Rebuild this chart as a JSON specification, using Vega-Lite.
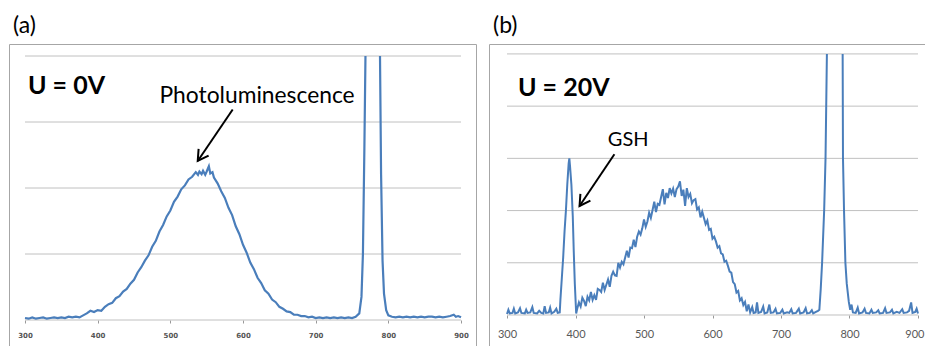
{
  "$schema": "https://vega.github.io/schema/vega-lite/v6.json",
  "padding": {"left": 8, "top": 14, "right": 0, "bottom": 0},
  "background": "white",
  "spacing": 11,
  "config": {
    "view": {"stroke": "#a6a6a6", "strokeWidth": 1},
    "title": {"anchor": "start", "fontSize": 23, "font": "Lato", "fontWeight": "normal", "color": "#000000", "dx": 4, "offset": 6}
  },
  "datasets": {
    "a": [
      {"x": 300, "y": 0.03}, {"x": 305, "y": 0.02}, {"x": 310, "y": 0.04}, {"x": 315, "y": 0.02}, {"x": 320, "y": 0.03},
      {"x": 325, "y": 0.04}, {"x": 330, "y": 0.02}, {"x": 335, "y": 0.03}, {"x": 340, "y": 0.04}, {"x": 345, "y": 0.03},
      {"x": 350, "y": 0.04}, {"x": 355, "y": 0.03}, {"x": 360, "y": 0.05}, {"x": 365, "y": 0.04}, {"x": 370, "y": 0.05},
      {"x": 375, "y": 0.04}, {"x": 380, "y": 0.07}, {"x": 385, "y": 0.10}, {"x": 390, "y": 0.14}, {"x": 395, "y": 0.12},
      {"x": 400, "y": 0.15}, {"x": 405, "y": 0.14}, {"x": 410, "y": 0.20}, {"x": 415, "y": 0.24}, {"x": 420, "y": 0.26},
      {"x": 425, "y": 0.33}, {"x": 430, "y": 0.36}, {"x": 435, "y": 0.43}, {"x": 440, "y": 0.47}, {"x": 445, "y": 0.55},
      {"x": 450, "y": 0.61}, {"x": 455, "y": 0.72}, {"x": 460, "y": 0.80}, {"x": 465, "y": 0.90}, {"x": 470, "y": 0.98},
      {"x": 475, "y": 1.11}, {"x": 480, "y": 1.20}, {"x": 485, "y": 1.34}, {"x": 490, "y": 1.44}, {"x": 495, "y": 1.57},
      {"x": 500, "y": 1.66}, {"x": 505, "y": 1.79}, {"x": 510, "y": 1.87}, {"x": 515, "y": 1.98}, {"x": 520, "y": 2.04},
      {"x": 525, "y": 2.13}, {"x": 530, "y": 2.17}, {"x": 535, "y": 2.24}, {"x": 538, "y": 2.20}, {"x": 540, "y": 2.25},
      {"x": 543, "y": 2.21}, {"x": 545, "y": 2.26}, {"x": 548, "y": 2.20}, {"x": 550, "y": 2.25}, {"x": 553, "y": 2.33},
      {"x": 555, "y": 2.22}, {"x": 558, "y": 2.24}, {"x": 560, "y": 2.16}, {"x": 565, "y": 2.07}, {"x": 570, "y": 1.95},
      {"x": 575, "y": 1.85}, {"x": 580, "y": 1.70}, {"x": 585, "y": 1.59}, {"x": 590, "y": 1.42}, {"x": 595, "y": 1.30},
      {"x": 600, "y": 1.14}, {"x": 605, "y": 1.02}, {"x": 610, "y": 0.87}, {"x": 615, "y": 0.77}, {"x": 620, "y": 0.64},
      {"x": 625, "y": 0.56}, {"x": 630, "y": 0.45}, {"x": 635, "y": 0.40}, {"x": 640, "y": 0.31}, {"x": 645, "y": 0.27},
      {"x": 650, "y": 0.20}, {"x": 655, "y": 0.17}, {"x": 660, "y": 0.13}, {"x": 665, "y": 0.12}, {"x": 670, "y": 0.08},
      {"x": 675, "y": 0.08}, {"x": 680, "y": 0.06}, {"x": 685, "y": 0.06}, {"x": 690, "y": 0.04}, {"x": 695, "y": 0.05},
      {"x": 700, "y": 0.03}, {"x": 705, "y": 0.04}, {"x": 710, "y": 0.03}, {"x": 715, "y": 0.04}, {"x": 720, "y": 0.03},
      {"x": 725, "y": 0.04}, {"x": 730, "y": 0.03}, {"x": 735, "y": 0.04}, {"x": 740, "y": 0.03}, {"x": 745, "y": 0.04},
      {"x": 750, "y": 0.03}, {"x": 755, "y": 0.05}, {"x": 760, "y": 0.10}, {"x": 763, "y": 0.35}, {"x": 765, "y": 1.0},
      {"x": 767, "y": 2.6}, {"x": 768.5, "y": 4.0}, {"x": 778, "y": null}, {"x": 788.5, "y": 4.0}, {"x": 790, "y": 2.2},
      {"x": 792, "y": 0.9}, {"x": 794, "y": 0.4}, {"x": 797, "y": 0.15}, {"x": 800, "y": 0.07}, {"x": 805, "y": 0.05},
      {"x": 810, "y": 0.04}, {"x": 815, "y": 0.05}, {"x": 820, "y": 0.04}, {"x": 825, "y": 0.05}, {"x": 830, "y": 0.04},
      {"x": 835, "y": 0.05}, {"x": 840, "y": 0.04}, {"x": 845, "y": 0.05}, {"x": 850, "y": 0.04}, {"x": 855, "y": 0.05},
      {"x": 860, "y": 0.05}, {"x": 865, "y": 0.04}, {"x": 870, "y": 0.05}, {"x": 875, "y": 0.04}, {"x": 880, "y": 0.05},
      {"x": 885, "y": 0.06}, {"x": 890, "y": 0.08}, {"x": 893, "y": 0.05}, {"x": 896, "y": 0.06}, {"x": 900, "y": 0.04}
    ],
    "b": [
      {"x": 300, "y": 0.02}, {"x": 302, "y": 0.10}, {"x": 304, "y": 0.03}, {"x": 308, "y": 0.04}, {"x": 310, "y": 0.12},
      {"x": 312, "y": 0.03}, {"x": 316, "y": 0.05}, {"x": 319, "y": 0.13}, {"x": 321, "y": 0.04}, {"x": 326, "y": 0.03},
      {"x": 328, "y": 0.10}, {"x": 330, "y": 0.04}, {"x": 334, "y": 0.05}, {"x": 337, "y": 0.15}, {"x": 339, "y": 0.04},
      {"x": 344, "y": 0.03}, {"x": 347, "y": 0.08}, {"x": 350, "y": 0.04}, {"x": 353, "y": 0.03}, {"x": 355, "y": 0.17},
      {"x": 357, "y": 0.04}, {"x": 361, "y": 0.05}, {"x": 363, "y": 0.14}, {"x": 365, "y": 0.03}, {"x": 369, "y": 0.06},
      {"x": 372, "y": 0.12}, {"x": 374, "y": 0.04}, {"x": 377, "y": 0.05}, {"x": 378, "y": 0.30}, {"x": 380, "y": 0.70},
      {"x": 382, "y": 1.10}, {"x": 384, "y": 1.60}, {"x": 386, "y": 2.00}, {"x": 388, "y": 2.50}, {"x": 390, "y": 2.90},
      {"x": 391, "y": 3.00}, {"x": 392, "y": 2.85}, {"x": 394, "y": 2.50}, {"x": 396, "y": 1.90}, {"x": 397.5, "y": 1.20},
      {"x": 399, "y": 0.60}, {"x": 401, "y": 0.03}, {"x": 402.5, "y": 0.12}, {"x": 405, "y": 0.24}, {"x": 407.5, "y": 0.16},
      {"x": 410, "y": 0.33}, {"x": 412.5, "y": 0.27}, {"x": 415, "y": 0.17}, {"x": 417.5, "y": 0.35}, {"x": 420, "y": 0.28},
      {"x": 422.5, "y": 0.44}, {"x": 425, "y": 0.29}, {"x": 427.5, "y": 0.38}, {"x": 430, "y": 0.29}, {"x": 432.5, "y": 0.50},
      {"x": 435, "y": 0.48}, {"x": 437.5, "y": 0.44}, {"x": 440, "y": 0.62}, {"x": 442.5, "y": 0.48}, {"x": 445, "y": 0.58},
      {"x": 447.5, "y": 0.68}, {"x": 450, "y": 0.54}, {"x": 452.5, "y": 0.75}, {"x": 455, "y": 0.83}, {"x": 457.5, "y": 0.76},
      {"x": 460, "y": 0.75}, {"x": 462.5, "y": 1.00}, {"x": 465, "y": 0.91}, {"x": 467.5, "y": 1.02}, {"x": 470, "y": 0.97},
      {"x": 472.5, "y": 1.10}, {"x": 475, "y": 1.23}, {"x": 477.5, "y": 1.10}, {"x": 480, "y": 1.29}, {"x": 482.5, "y": 1.28},
      {"x": 485, "y": 1.44}, {"x": 487.5, "y": 1.30}, {"x": 490, "y": 1.50}, {"x": 492.5, "y": 1.60}, {"x": 495, "y": 1.54},
      {"x": 497.5, "y": 1.66}, {"x": 500, "y": 1.83}, {"x": 502.5, "y": 1.69}, {"x": 505, "y": 1.79}, {"x": 507.5, "y": 1.96},
      {"x": 510, "y": 1.86}, {"x": 512.5, "y": 2.01}, {"x": 515, "y": 2.17}, {"x": 517.5, "y": 1.97}, {"x": 520, "y": 2.13},
      {"x": 522.5, "y": 2.11}, {"x": 525, "y": 2.26}, {"x": 527.5, "y": 2.41}, {"x": 530, "y": 2.12}, {"x": 532.5, "y": 2.34},
      {"x": 535, "y": 2.24}, {"x": 537.5, "y": 2.43}, {"x": 540, "y": 2.33}, {"x": 542.5, "y": 2.42}, {"x": 545, "y": 2.26},
      {"x": 547.5, "y": 2.41}, {"x": 550, "y": 2.46}, {"x": 552.5, "y": 2.56}, {"x": 555, "y": 2.28}, {"x": 557.5, "y": 2.40},
      {"x": 560, "y": 2.09}, {"x": 562.5, "y": 2.43}, {"x": 565, "y": 2.26}, {"x": 567.5, "y": 2.32}, {"x": 570, "y": 2.14},
      {"x": 572.5, "y": 2.20}, {"x": 575, "y": 2.22}, {"x": 577.5, "y": 2.02}, {"x": 580, "y": 2.06}, {"x": 582.5, "y": 1.87},
      {"x": 585, "y": 1.98}, {"x": 587.5, "y": 1.86}, {"x": 590, "y": 1.74}, {"x": 592.5, "y": 1.81}, {"x": 595, "y": 1.63},
      {"x": 597.5, "y": 1.65}, {"x": 600, "y": 1.46}, {"x": 602.5, "y": 1.50}, {"x": 605, "y": 1.41}, {"x": 607.5, "y": 1.29},
      {"x": 610, "y": 1.32}, {"x": 612.5, "y": 1.18}, {"x": 615, "y": 1.16}, {"x": 617.5, "y": 1.02}, {"x": 620, "y": 1.04},
      {"x": 622.5, "y": 0.94}, {"x": 625, "y": 0.83}, {"x": 627.5, "y": 0.81}, {"x": 630, "y": 0.63}, {"x": 632.5, "y": 0.59},
      {"x": 635, "y": 0.43}, {"x": 637.5, "y": 0.46}, {"x": 640, "y": 0.28}, {"x": 642.5, "y": 0.32}, {"x": 645, "y": 0.19},
      {"x": 647.5, "y": 0.25}, {"x": 650, "y": 0.07}, {"x": 652.5, "y": 0.20}, {"x": 655, "y": 0.05}, {"x": 658, "y": 0.15},
      {"x": 660, "y": 0.04}, {"x": 663, "y": 0.05}, {"x": 665, "y": 0.24}, {"x": 667, "y": 0.04}, {"x": 671, "y": 0.06},
      {"x": 674, "y": 0.16}, {"x": 676, "y": 0.03}, {"x": 680, "y": 0.05}, {"x": 683, "y": 0.20}, {"x": 685, "y": 0.04},
      {"x": 689, "y": 0.05}, {"x": 692, "y": 0.12}, {"x": 694, "y": 0.03}, {"x": 699, "y": 0.04}, {"x": 702, "y": 0.10},
      {"x": 704, "y": 0.03}, {"x": 709, "y": 0.05}, {"x": 712, "y": 0.04}, {"x": 715, "y": 0.11}, {"x": 717, "y": 0.03},
      {"x": 722, "y": 0.04}, {"x": 726, "y": 0.12}, {"x": 728, "y": 0.03}, {"x": 733, "y": 0.05}, {"x": 736, "y": 0.13},
      {"x": 738, "y": 0.03}, {"x": 742, "y": 0.04}, {"x": 745, "y": 0.09}, {"x": 747, "y": 0.03}, {"x": 751, "y": 0.06},
      {"x": 754, "y": 0.08}, {"x": 756, "y": 0.10}, {"x": 758, "y": 0.50}, {"x": 760, "y": 1.00}, {"x": 763, "y": 2.00},
      {"x": 765, "y": 3.00}, {"x": 767, "y": 5.00}, {"x": 778, "y": null}, {"x": 790, "y": 5.00}, {"x": 790.5, "y": 3.00},
      {"x": 792, "y": 2.00}, {"x": 794, "y": 1.00}, {"x": 796, "y": 0.60}, {"x": 799, "y": 0.25}, {"x": 801, "y": 0.10},
      {"x": 803, "y": 0.20}, {"x": 805, "y": 0.05}, {"x": 809, "y": 0.04}, {"x": 812, "y": 0.14}, {"x": 814, "y": 0.03},
      {"x": 819, "y": 0.05}, {"x": 822, "y": 0.12}, {"x": 824, "y": 0.04}, {"x": 829, "y": 0.03}, {"x": 832, "y": 0.10},
      {"x": 834, "y": 0.04}, {"x": 839, "y": 0.05}, {"x": 842, "y": 0.09}, {"x": 844, "y": 0.03}, {"x": 849, "y": 0.04},
      {"x": 852, "y": 0.13}, {"x": 854, "y": 0.04}, {"x": 859, "y": 0.05}, {"x": 862, "y": 0.10}, {"x": 864, "y": 0.03},
      {"x": 869, "y": 0.06}, {"x": 873, "y": 0.04}, {"x": 877, "y": 0.11}, {"x": 879, "y": 0.04}, {"x": 884, "y": 0.05},
      {"x": 887, "y": 0.08}, {"x": 890, "y": 0.24}, {"x": 892, "y": 0.04}, {"x": 896, "y": 0.06}, {"x": 898, "y": 0.12},
      {"x": 900, "y": 0.03}
    ],
    "grid_a": [{"y": 0}, {"y": 1}, {"y": 2}, {"y": 3}, {"y": 4}],
    "grid_b": [{"y": 0}, {"y": 1}, {"y": 2}, {"y": 3}, {"y": 4}, {"y": 5}],
    "label_a": [{"x": 304.1, "y": 3.417, "t": "U = 0V"}],
    "note_a": [{"x": 619.3, "y": 3.295, "t": "Photoluminescence"}],
    "arrow_a": [{"x": 585.8, "y": 3.19, "x2": 537.7, "y2": 2.41}],
    "label_b": [{"x": 316, "y": 4.195, "t": "U = 20V"}],
    "note_b": [{"x": 476.9, "y": 3.238, "t": "GSH"}],
    "arrow_b": [{"x": 456.8, "y": 3.078, "x2": 405.9, "y2": 2.088}]
  },
  "hconcat": [
    {
      "title": "(a)",
      "width": 467,
      "height": 310,
      "layer": [
        {
          "data": {"name": "grid_a"},
          "mark": {"type": "rule", "color": "#c0c0c0", "strokeWidth": 1},
          "encoding": {
            "x": {"datum": 300, "type": "quantitative", "scale": {"domain": [277.98, 920.6], "nice": false, "zero": false},
              "axis": {"title": null, "values": [300, 400, 500, 600, 700, 800, 900], "grid": false, "domain": false, "ticks": true, "tickSize": 3, "tickColor": "#999999", "labelFontSize": 7, "labelFont": "DejaVu Sans", "labelFontWeight": "bold", "labelColor": "#555555", "labelPadding": 8, "offset": -34, "labelFlush": false}},
            "x2": {"datum": 900},
            "y": {"field": "y", "type": "quantitative", "scale": {"domain": [-0.515, 4.182], "nice": false, "zero": false}, "axis": null}
          }
        },
        {
          "encoding": {
            "x": {"field": "x", "type": "quantitative", "scale": {"domain": [277.98, 920.6], "nice": false, "zero": false},
              "axis": {"title": null, "values": [300, 400, 500, 600, 700, 800, 900], "grid": false, "domain": false, "ticks": true, "tickSize": 3, "tickColor": "#999999", "labelFontSize": 7, "labelFont": "DejaVu Sans", "labelFontWeight": "bold", "labelColor": "#555555", "labelPadding": 8, "offset": -34, "labelFlush": false}},
            "y": {"field": "y", "type": "quantitative", "scale": {"domain": [-0.515, 4.182], "nice": false, "zero": false}, "axis": null}
          },
          "layer": [
            {
              "data": {"name": "a"},
              "mark": {"type": "line", "color": "#4a7ebb", "strokeWidth": 2.2, "invalid": "break-paths-show-domains"}
            },
            {
              "data": {"name": "arrow_a"},
              "mark": {"type": "rule", "color": "#000000", "strokeWidth": 2},
              "encoding": {"x2": {"field": "x2"}, "y2": {"field": "y2"}}
            },
            {
              "data": {"name": "arrow_a"},
              "mark": {"type": "point", "shape": "M-2,-1.15L0,0L-2,1.15", "size": 110, "filled": false, "stroke": "#000000", "strokeWidth": 2, "angle": 124, "opacity": 1},
              "encoding": {
                "x": {"field": "x2", "type": "quantitative"},
                "y": {"field": "y2", "type": "quantitative"}
              }
            },
            {
              "data": {"name": "label_a"},
              "mark": {"type": "text", "font": "Lato", "fontSize": 25, "fontWeight": "bold", "align": "left", "baseline": "alphabetic", "color": "#000000"},
              "encoding": {"text": {"field": "t"}}
            },
            {
              "data": {"name": "note_a"},
              "mark": {"type": "text", "font": "Lato", "fontSize": 22.8, "align": "center", "baseline": "alphabetic", "color": "#000000"},
              "encoding": {"text": {"field": "t"}}
            }
          ]
        }
      ]
    },
    {
      "title": "(b)",
      "width": 438,
      "height": 310,
      "layer": [
        {
          "data": {"name": "grid_b"},
          "mark": {"type": "rule", "color": "#c0c0c0", "strokeWidth": 1},
          "encoding": {
            "x": {"datum": 300, "type": "quantitative", "scale": {"domain": [273.72, 913.14], "nice": false, "zero": false},
              "axis": {"title": null, "values": [300, 400, 500, 600, 700, 800, 900], "grid": false, "domain": false, "ticks": true, "tickSize": 3, "tickColor": "#999999", "labelFontSize": 11, "labelFont": "Lato", "labelColor": "#595959", "labelPadding": 10, "offset": -39, "labelFlush": false,
                "labelAlign": {"condition": {"test": "datum.value >= 900", "value": "right"}, "value": "center"},
                "labelOffset": {"condition": {"test": "datum.value >= 900", "value": 6}, "value": 0}}},
            "x2": {"datum": 900},
            "y": {"field": "y", "type": "quantitative", "scale": {"domain": [-0.747, 5.19], "nice": false, "zero": false}, "axis": null}
          }
        },
        {
          "encoding": {
            "x": {"field": "x", "type": "quantitative", "scale": {"domain": [273.72, 913.14], "nice": false, "zero": false},
              "axis": {"title": null, "values": [300, 400, 500, 600, 700, 800, 900], "grid": false, "domain": false, "ticks": true, "tickSize": 3, "tickColor": "#999999", "labelFontSize": 11, "labelFont": "Lato", "labelColor": "#595959", "labelPadding": 10, "offset": -39, "labelFlush": false,
                "labelAlign": {"condition": {"test": "datum.value >= 900", "value": "right"}, "value": "center"},
                "labelOffset": {"condition": {"test": "datum.value >= 900", "value": 6}, "value": 0}}},
            "y": {"field": "y", "type": "quantitative", "scale": {"domain": [-0.747, 5.19], "nice": false, "zero": false}, "axis": null}
          },
          "layer": [
            {
              "data": {"name": "b"},
              "mark": {"type": "line", "color": "#4a7ebb", "strokeWidth": 2, "invalid": "break-paths-show-domains"}
            },
            {
              "data": {"name": "arrow_b"},
              "mark": {"type": "rule", "color": "#000000", "strokeWidth": 2},
              "encoding": {"x2": {"field": "x2"}, "y2": {"field": "y2"}}
            },
            {
              "data": {"name": "arrow_b"},
              "mark": {"type": "point", "shape": "M-2,-1.15L0,0L-2,1.15", "size": 110, "filled": false, "stroke": "#000000", "strokeWidth": 2, "angle": 124, "opacity": 1},
              "encoding": {
                "x": {"field": "x2", "type": "quantitative"},
                "y": {"field": "y2", "type": "quantitative"}
              }
            },
            {
              "data": {"name": "label_b"},
              "mark": {"type": "text", "font": "Lato", "fontSize": 25, "fontWeight": "bold", "align": "left", "baseline": "alphabetic", "color": "#000000"},
              "encoding": {"text": {"field": "t"}}
            },
            {
              "data": {"name": "note_b"},
              "mark": {"type": "text", "font": "Lato", "fontSize": 20, "align": "center", "baseline": "alphabetic", "color": "#000000"},
              "encoding": {"text": {"field": "t"}}
            }
          ]
        }
      ]
    }
  ]
}
